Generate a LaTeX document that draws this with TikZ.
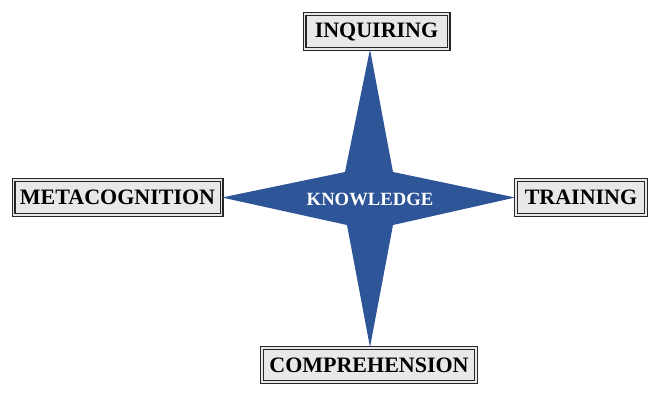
\documentclass[tikz,border=0pt]{standalone}
\usepackage{fontspec}
\setmainfont{Liberation Serif}
\usetikzlibrary{calc}
\definecolor{starblue}{RGB}{46,85,152}
\definecolor{boxgray}{RGB}{232,232,232}
\begin{document}
\begin{tikzpicture}
                            [x=0.75pt, y=-0.75pt,
                            item/.style = {rectangle,
                                        draw = black!85,
                                        line width = 0.8pt,
                                        double = boxgray,
                                        double distance = 1.4pt,
                                        fill = boxgray,
                                        minimum width = #1,
                                        minimum height = 26pt,
                                        font = \fontsize{16.5}{18}\selectfont\bfseries}]
                            \useasboundingbox (0,0) rectangle (669,404);
                            % Recuadros
                            \node[item=108pt] (inq) at (376.5,31.5) {INQUIRING};
                            \node[item=156pt] (meta) at (117.5,197.5) {METACOGNITION};
                            \node[item=98pt] (train) at (581,197.5) {TRAINING};
                            \node[item=161pt] (comp) at (369,365) {COMPREHENSION};
                            % Estrella
                            \coordinate (c) at (370,199);
                            \fill[starblue] (inq.south -| c) -- ($(c)+(23,-27)$) -- (train.west)
                                -- ($(c)+(23,26)$) -- (comp.north -| c) -- ($(c)+(-23,26)$)
                                -- (meta.east) -- ($(c)+(-25,-27)$) -- cycle;
                            % Centro
                            \node[text=white, font=\fontsize{14}{16}\selectfont\bfseries] (know) at (c) {KNOWLEDGE};
                        \end{tikzpicture}
\end{document}
